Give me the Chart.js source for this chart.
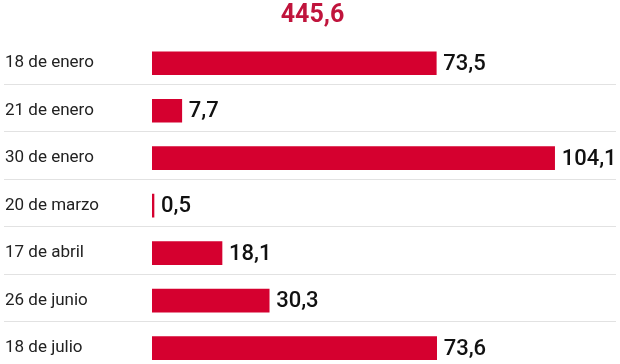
<!DOCTYPE html>
<html>
<head>
<meta charset="utf-8">
<script src="https://cdn.jsdelivr.net/npm/chart.js@4"></script>
<style>
  html, body { margin: 0; padding: 0; background: #fff; overflow: hidden; }
  canvas { display: block; }
</style>
</head>
<body>
<canvas id="chart" width="620" height="385"></canvas>
<script>
const categories = ["18 de enero", "21 de enero", "30 de enero", "20 de marzo", "17 de abril", "26 de junio", "18 de julio"];
const values = [73.5, 7.7, 104.1, 0.5, 18.1, 30.3, 73.6];
const totalLabel = "445,6";

const fmt = (v) => v.toFixed(1).replace(".", ",");

// separators between rows, full width
const separators = {
  id: "separators",
  beforeDatasetsDraw(chart) {
    const { ctx } = chart;
    const y = chart.scales.y;
    ctx.save();
    ctx.strokeStyle = "#e2e2e2";
    ctx.lineWidth = 1;
    for (let i = 0; i < categories.length - 1; i++) {
      const yy = Math.round((y.getPixelForValue(i) + y.getPixelForValue(i + 1)) / 2 - 3) + 0.5;
      ctx.beginPath();
      ctx.moveTo(4, yy);
      ctx.lineTo(616, yy);
      ctx.stroke();
    }
    ctx.restore();
  }
};

// value labels at the end of each bar
const valueLabels = {
  id: "valueLabels",
  afterDatasetsDraw(chart) {
    const { ctx } = chart;
    const meta = chart.getDatasetMeta(0);
    ctx.save();
    ctx.font = "500 22px Roboto";
    ctx.fillStyle = "#111";
    ctx.textAlign = "left";
    ctx.textBaseline = "middle";
    meta.data.forEach((bar, i) => {
      ctx.fillText(fmt(values[i]), bar.x + 7, bar.y + 1);
    });
    ctx.restore();
  }
};

new Chart(document.getElementById("chart"), {
  type: "bar",
  data: {
    labels: categories,
    datasets: [{
      data: values,
      backgroundColor: "#d5002f",
      barThickness: 23,
      minBarLength: 2
    }]
  },
  options: {
    indexAxis: "y",
    responsive: false,
    animation: false,
    layout: { padding: { left: 5, right: 0, top: 0, bottom: 1 } },
    plugins: {
      legend: { display: false },
      tooltip: { enabled: false },
      title: {
        display: true,
        text: totalLabel,
        color: "#c0143c",
        font: { family: "Roboto", size: 25, weight: "bold", lineHeight: 1.2 },
        padding: { top: 1, bottom: 8.5 }
      }
    },
    scales: {
      x: { display: false, min: 0, max: 121 },
      y: {
        grid: { display: false },
        border: { display: false },
        ticks: {
          crossAlign: "far",
          color: "#222",
          font: { family: "Roboto", size: 17 }
        },
        afterFit(scale) { scale.width = 147; }
      }
    }
  },
  plugins: [separators, valueLabels]
});
</script>
</body>
</html>
